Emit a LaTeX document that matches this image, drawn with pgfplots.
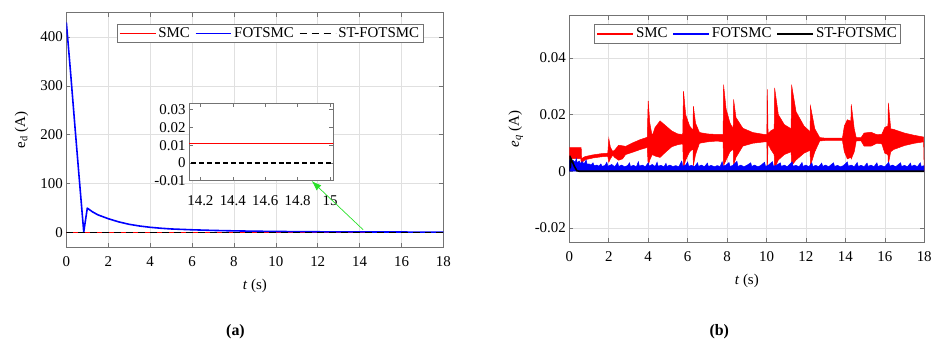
\documentclass[border=0pt]{standalone}
\usepackage{fontspec}
\setmainfont{Liberation Serif}
\usepackage{pgfplots}
\usepackage{pgfplotstable}
\pgfplotsset{compat=1.18}
\usetikzlibrary{arrows.meta}

\definecolor{framegray}{gray}{0.45}
\definecolor{gridgray}{gray}{0.88}
\definecolor{arrowgreen}{RGB}{40,225,40}

% d-axis current error, SMC (A)
\pgfplotstableread{
t y
0 0.011
18 0.011
}\edsmc

% d-axis current error, FOTSMC (A)
\pgfplotstableread{
t y
0 430
0.2 328
0.4 222
0.6 118
0.83 1
1.0 49.6
1.25 42
1.5 36
2 28
2.5 21.5
3 16.5
3.5 13
4 10.4
4.5 8.5
5 7.0
6 5.3
7 4.0
8 3.1
9 2.4
10 1.9
11 1.5
12 1.2
14 0.9
16 0.7
18 0.5
}\edfot

% d-axis current error, ST-FOTSMC (A)
\pgfplotstableread{
t y
0 0
18 0
}\edst

% q-axis current error, SMC: outline of the chattering band,
% upper envelope forwards then lower envelope backwards (A)
\pgfplotstableread{
t y
0 0.0084
0.60 0.0084
0.62 0.0045
0.8 0.0052
1.2 0.0058
1.6 0.0062
1.95 0.0064
2.0 0.0116
2.08 0.0085
2.2 0.0070
2.3 0.0075
2.5 0.0092
2.7 0.0090
2.85 0.0088
3.2 0.0100
3.6 0.0112
3.95 0.0120
4.0 0.0249
4.08 0.0170
4.2 0.0125
4.35 0.0155
4.6 0.0178
4.9 0.0160
5.2 0.0142
5.5 0.0132
5.75 0.0130
5.79 0.0283
5.9 0.0200
6.1 0.0160
6.27 0.0145
6.29 0.0230
6.4 0.0170
6.6 0.0137
7.0 0.0132
7.5 0.0130
7.8 0.0130
7.82 0.0306
7.95 0.0220
8.15 0.0170
8.31 0.0150
8.33 0.0254
8.45 0.0190
8.8 0.0152
9.3 0.0137
9.9 0.0130
10.02 0.0130
10.04 0.0289
10.08 0.0132
10.2 0.0142
10.39 0.0150
10.41 0.0295
10.6 0.0200
10.9 0.0165
11.25 0.0150
11.27 0.0306
11.5 0.0210
11.9 0.0160
12.21 0.0140
12.23 0.0230
12.45 0.0150
12.7 0.0119
13.0 0.0117
13.85 0.0117
13.95 0.0160
14.1 0.0182
14.28 0.0177
14.30 0.0236
14.45 0.0150
14.55 0.0119
14.8 0.0119
14.95 0.0135
15.3 0.0138
15.6 0.0129
15.85 0.0131
16.0 0.0155
16.16 0.0160
16.18 0.0242
16.3 0.0150
16.45 0.0148
17.0 0.0135
17.5 0.0127
17.97 0.0121
18.0 0.0000
17.97 0.0104
17.5 0.0099
17.0 0.0091
16.45 0.0077
16.3 0.0069
16.18 0.0026
16.16 0.0059
16.0 0.0064
15.85 0.0097
15.6 0.0099
15.3 0.0089
14.95 0.0089
14.8 0.0107
14.55 0.0107
14.45 0.0069
14.30 0.0044
14.28 0.0049
14.1 0.0044
13.95 0.0069
13.85 0.0109
13.0 0.0109
12.7 0.0107
12.45 0.0069
12.23 0.0020
12.21 0.0074
11.9 0.0064
11.5 0.0040
11.27 0.0020
11.25 0.0069
10.9 0.0059
10.6 0.0040
10.41 0.0010
10.39 0.0059
10.2 0.0079
10.08 0.0099
10.04 0.0005
10.02 0.0104
9.9 0.0104
9.3 0.0099
8.8 0.0089
8.45 0.0049
8.33 0.0020
8.31 0.0079
8.15 0.0069
7.95 0.0040
7.82 0.0020
7.8 0.0104
7.5 0.0107
7.0 0.0104
6.6 0.0099
6.4 0.0059
6.29 0.0020
6.27 0.0079
6.1 0.0069
5.9 0.0040
5.79 0.0014
5.75 0.0097
5.5 0.0094
5.2 0.0087
4.9 0.0069
4.6 0.0049
4.35 0.0054
4.2 0.0059
4.08 0.0040
4.0 0.0020
3.95 0.0084
3.6 0.0077
3.2 0.0067
2.85 0.0059
2.7 0.0044
2.5 0.0039
2.3 0.0049
2.2 0.0057
2.08 0.0044
2.0 0.0032
1.95 0.0053
1.6 0.0051
1.2 0.0047
0.8 0.0041
0.62 0.0030
0.60 0.0030
0.58 0.0045
0 0.0045
}\eqsmc

% q-axis current error, FOTSMC: top of the ripple band (A)
\pgfplotstableread{
t y
0 0
0 0.0040
0.05 0.0030
0.1 0.0042
0.15 0.0030
0.2 0.0038
0.3 0.0032
0.35 0.0045
0.4 0.0030
0.5 0.0036
0.55 0.0028
0.65 0.0034
0.75 0.0026
0.85 0.0040
0.9 0.0025
1.0 0.0026
1.1 0.0022
1.2 0.0030
1.25 0.0020
1.4 0.0022
1.5 0.0018
1.6 0.0026
1.65 0.0018
1.8 0.0020
1.9 0.0032
1.95 0.0018
2.15 0.0024
2.3 0.0016
2.45 0.0031
2.5 0.0017
2.65 0.0022
2.8 0.0016
2.95 0.0020
3.05 0.0030
3.1 0.0017
3.25 0.0021
3.4 0.0016
3.5 0.0034
3.55 0.0018
3.7 0.0022
3.85 0.0016
4.0 0.0030
4.05 0.0018
4.2 0.0024
4.35 0.0017
4.45 0.0032
4.5 0.0018
4.65 0.0021
4.8 0.0016
4.9 0.0028
4.95 0.0017
5.1 0.0022
5.25 0.0017
5.4 0.0020
5.55 0.0016
5.7 0.0036
5.75 0.0018
5.9 0.0022
6.0 0.0033
6.05 0.0018
6.2 0.0021
6.35 0.0016
6.5 0.0030
6.55 0.0017
6.7 0.0022
6.85 0.0016
7.0 0.0029
7.05 0.0017
7.2 0.0021
7.35 0.0016
7.5 0.0020
7.65 0.0017
7.75 0.0034
7.8 0.0018
7.95 0.0022
8.1 0.0031
8.15 0.0017
8.3 0.0021
8.5 0.0035
8.55 0.0017
8.7 0.0022
8.85 0.0016
9.0 0.0021
9.2 0.0030
9.25 0.0017
9.4 0.0022
9.55 0.0016
9.7 0.0020
9.9 0.0032
9.95 0.0017
10.1 0.0022
10.3 0.0034
10.35 0.0018
10.5 0.0021
10.7 0.0030
10.75 0.0017
10.9 0.0022
11.05 0.0016
11.3 0.0033
11.35 0.0018
11.5 0.0021
11.65 0.0016
11.8 0.0031
11.85 0.0017
12.0 0.0022
12.15 0.0016
12.3 0.0030
12.35 0.0017
12.5 0.0021
12.65 0.0016
12.8 0.0029
12.85 0.0017
13.0 0.0022
13.15 0.0016
13.4 0.0030
13.45 0.0017
13.6 0.0021
13.75 0.0016
13.9 0.0020
14.1 0.0033
14.15 0.0018
14.3 0.0022
14.45 0.0016
14.6 0.0031
14.65 0.0017
14.8 0.0021
14.95 0.0016
15.1 0.0029
15.15 0.0017
15.3 0.0022
15.45 0.0016
15.6 0.0030
15.65 0.0017
15.8 0.0021
16.0 0.0016
16.2 0.0032
16.25 0.0018
16.4 0.0022
16.55 0.0016
16.8 0.0030
16.85 0.0017
17.0 0.0021
17.15 0.0016
17.3 0.0029
17.35 0.0017
17.5 0.0022
17.65 0.0016
17.8 0.0030
17.85 0.0017
18.0 0.0020
18.0 0
}\eqfot

% q-axis current error, ST-FOTSMC (A)
\pgfplotstableread{
t y
0 0
0.02 0.0055
0.05 0.0010
0.08 0.0045
0.15 0.0035
0.25 0.0018
0.38 0.0002
0.5 0
18 0
}\eqst

% legend samples: a 36pt stroke in the plot's colour and dash
\pgfplotsset{
  legend image code/.code={\draw[#1, line width=1.6pt] (0pt,0pt) -- (36pt,0pt);},
}

\pgfplotsset{
  matstyle/.style={
    scale only axis,
    xtick scale label code/.code={},
    ytick scale label code/.code={},
    axis line style={framegray, line width=0.8pt},
    tick style={framegray, line width=0.6pt},
    tick align=inside,
    major tick length=4pt,
    grid=major,
    grid style={gridgray, line width=0.6pt},
    ticklabel style={font=\fontsize{15}{17}\selectfont},
    xticklabel style={yshift=-6pt},
    label style={font=\fontsize{15}{18}\selectfont},
    legend columns=-1,
    legend style={anchor=north east, draw=framegray, line width=0.8pt, fill=white,
      font=\fontsize{15}{17}\selectfont, inner xsep=2pt, inner ysep=1.5pt,
      /tikz/every even column/.append style={column sep=3pt}},
  }
}

\begin{document}
\begin{tikzpicture}
\path (0,0) rectangle (935pt,-350pt);

% ---------- (a) d-axis current error ----------
\begin{axis}[matstyle,
  at={(66.7pt,-12.7pt)}, anchor=north west,
  width=379pt, height=235.6pt,
  xmin=0, xmax=18, ymin=-30, ymax=450,
  xtick={0,2,4,6,8,10,12,14,16,18},
  xticklabels={0,2,4,6,8,10,12,14,16,18},
  ytick={0,100,200,300,400},
  yticklabels={0,100,200,300,400},
  xlabel={\textit{t} (s)},
  ylabel={e\textsubscript{d} (A)},
  xlabel style={at={(axis description cs:0.5,-0.1655)}, anchor=center},
  ylabel style={at={(axis description cs:-0.119,0.5)}, anchor=center},
  legend style={at={(0.947,0.952)}},
]
\addplot[color=red, line width=1.6pt] table[x=t,y=y] {\edsmc};
\addplot[color=blue, line width=1.6pt, line join=round] table[x=t,y=y] {\edfot};
\addplot[color=black, line width=1.6pt, dash pattern=on 7pt off 5pt] table[x=t,y=y] {\edst};
\legend{SMC,FOTSMC,ST-FOTSMC}
\coordinate (arrtail) at (axis cs:14.17,5.3);
\coordinate (arrhead) at (axis cs:11.71,105.3);
\end{axis}

% zoomed view around t = 14.2 ... 15 s
\begin{axis}[matstyle, grid=none,
  at={(190pt,-104pt)}, anchor=north west,
  width=145pt, height=77.7pt,
  xmin=14.13, xmax=15.02, ymin=-0.01, ymax=0.0334,
  xtick={14.2,14.4,14.6,14.8,15},
  xticklabels={14.2,14.4,14.6,14.8,15},
  ytick={-0.01,0,0.01,0.02,0.03},
  yticklabels={-0.01,0,0.01,0.02,0.03},
  xticklabel style={yshift=-5pt},
  axis background/.style={fill=white},
]
\addplot[color=red, line width=1.6pt] table[x=t,y=y] {\edsmc};
\addplot[color=black, line width=1.6pt, dash pattern=on 5pt off 3pt] table[x=t,y=y] {\edst};
\end{axis}

\draw[color=arrowgreen, line width=0.7pt, -{Latex[length=10pt,width=7pt]}] (arrtail) -- (arrhead);

\node[font=\bfseries\fontsize{16}{18}\selectfont] at (236.7pt,-333pt) {(a)};

% ---------- (b) q-axis current error ----------
\begin{axis}[matstyle,
  at={(572.3pt,-15.7pt)}, anchor=north west,
  width=356.7pt, height=227.6pt,
  xmin=0, xmax=18, ymin=-0.025, ymax=0.055,
  xtick={0,2,4,6,8,10,12,14,16,18},
  xticklabels={0,2,4,6,8,10,12,14,16,18},
  ytick={-0.02,0,0.02,0.04},
  yticklabels={-0.02,0,0.02,0.04},
  xlabel={\textit{t} (s)},
  ylabel={\textit{e}\textsubscript{\textit{q}} (A)},
  xlabel style={at={(axis description cs:0.5,-0.171)}, anchor=center},
  ylabel style={at={(axis description cs:-0.151,0.5)}, anchor=center},
  legend style={at={(0.935,0.962)}},
]
\addplot[color=red, fill=red, line width=0.5pt] table[x=t,y=y] {\eqsmc};
\addplot[color=blue, fill=blue, line width=0.5pt] table[x=t,y=y] {\eqfot};
\addplot[color=black, line width=1.6pt] table[x=t,y=y] {\eqst};
\legend{SMC,FOTSMC,ST-FOTSMC}
\end{axis}

\node[font=\bfseries\fontsize{16}{18}\selectfont] at (723pt,-333pt) {(b)};
\end{tikzpicture}
\end{document}
